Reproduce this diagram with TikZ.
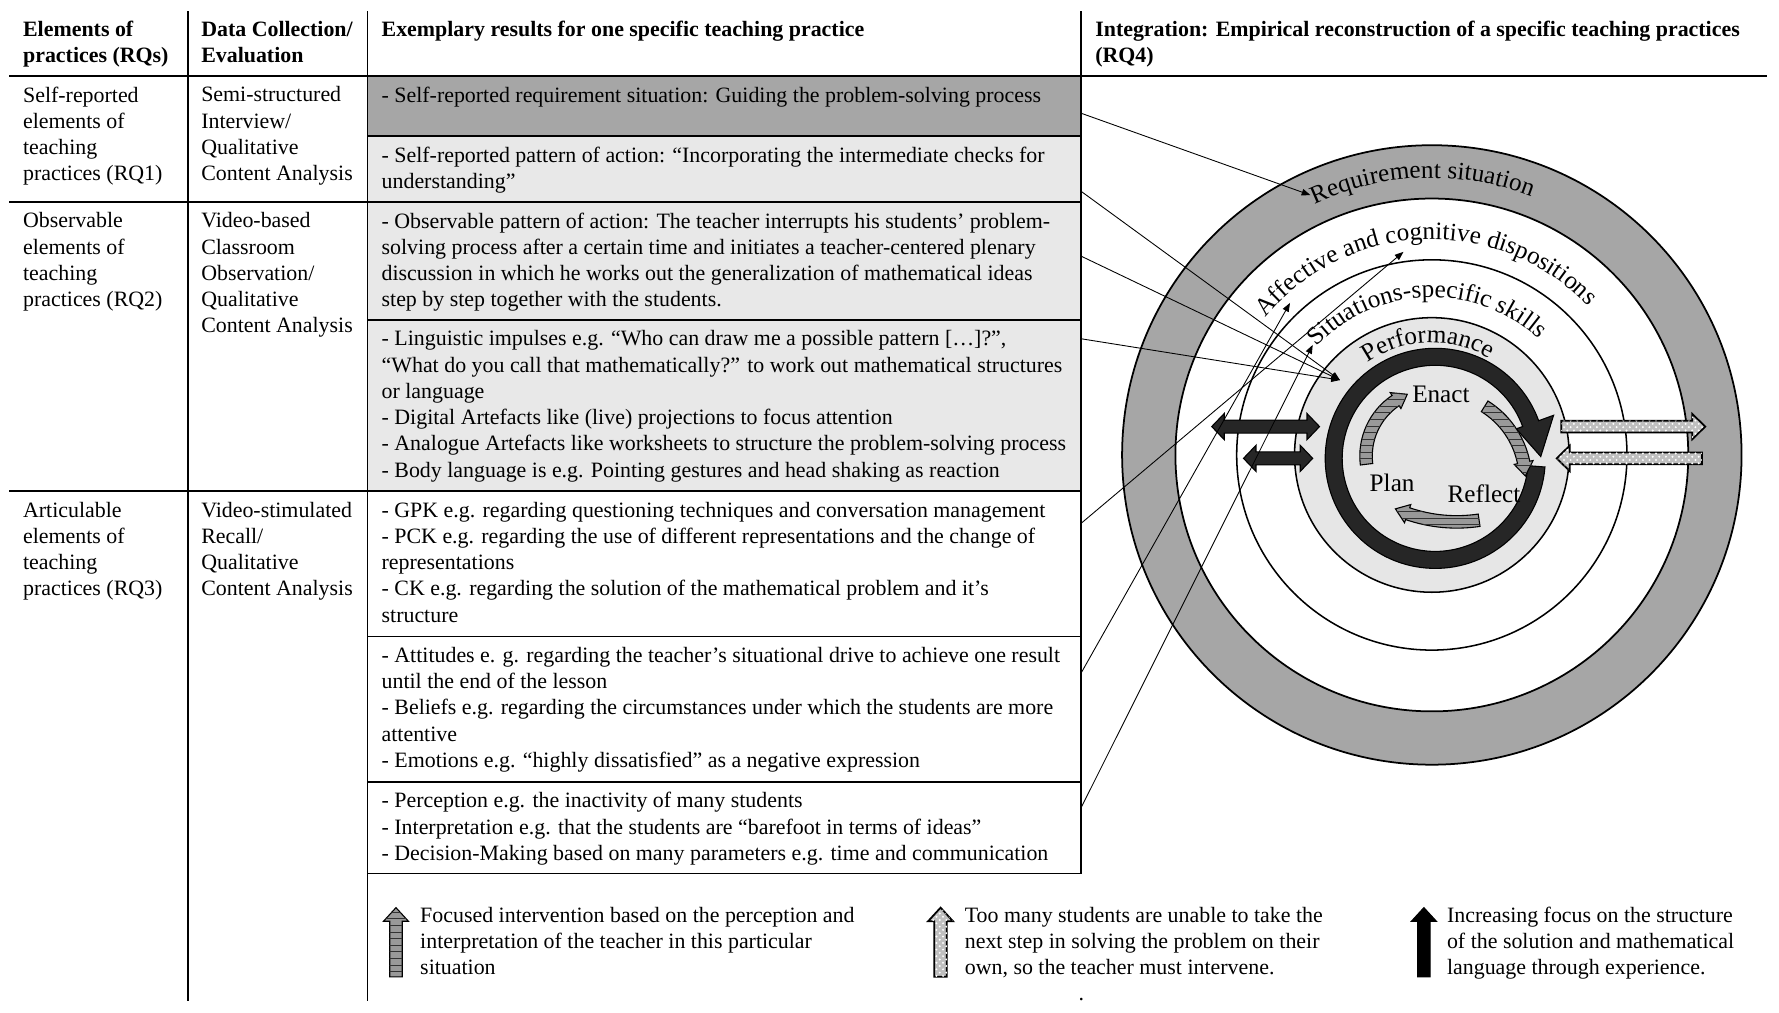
\documentclass[tikz,border=0pt]{standalone}
\usepackage{fontspec}
\setmainfont{Liberation Serif}
\usetikzlibrary{arrows.meta,calc,fit,patterns,decorations.text}
\definecolor{ringgray}{HTML}{A6A6A6}
\definecolor{cellgray}{HTML}{E8E8E8}
\definecolor{discgray}{HTML}{E6E6E6}
\definecolor{darkfill}{HTML}{262626}
\newcommand{\bodyfont}{\fontsize{10}{12}\selectfont}
\newcommand{\ringfont}{\fontsize{11.5}{13}\selectfont}
% block arrows
\newcommand{\dblarrow}[3]{% left tip, right tip, y
  \filldraw[darkarrow] (#1,#3) -- ({#1+11},{#3+11.5}) -- ({#1+11},{#3+5.7}) -- ({#2-11},{#3+5.7})
    -- ({#2-11},{#3+11.5}) -- (#2,#3) -- ({#2-11},{#3-11.5}) -- ({#2-11},{#3-5.7})
    -- ({#1+11},{#3-5.7}) -- ({#1+11},{#3-11.5}) -- cycle;}
\newcommand{\harrow}[5]{% style, tail x, tip x, y, head length
  \filldraw[#1] (#2,{#4+5.2}) -- ({#3-(#5)},{#4+5.2}) -- ({#3-(#5)},{#4+11.2}) -- (#3,#4)
    -- ({#3-(#5)},{#4-11.2}) -- ({#3-(#5)},{#4-5.2}) -- (#2,{#4-5.2}) -- cycle;}
\newcommand{\varrow}[4]{% style, x, bottom, tip
  \filldraw[#1] ({#2-5.5},#3) -- ({#2-5.5},{#4-12}) -- ({#2-11},{#4-12}) -- (#2,#4)
    -- ({#2+11},{#4-12}) -- ({#2+5.5},{#4-12}) -- ({#2+5.5},#3) -- cycle;}
\newcommand{\cycarrow}[5]{% centre, radius, tail angle, body end, tip angle
  \filldraw[stripearrow] ($#1+(#3:#2-5.5)$) arc[start angle=#3, end angle=#4, radius=#2-5.5]
    -- ($#1+(#4:#2-8.5)$) -- ($#1+(#5:#2)$) -- ($#1+(#4:#2+8.5)$) -- ($#1+(#4:#2+5.5)$)
    arc[start angle=#4, end angle=#3, radius=#2+5.5] -- cycle;}

\begin{document}
\begin{tikzpicture}[x=0.0182cm, y=0.0182cm,
    tab/.style={line width=0.8pt},
    cell/.style={inner sep=0pt, outer sep=0pt},
    txt/.style={anchor=north west, align=left, inner sep=0pt, font=\bodyfont},
    hdr/.style={txt, font=\bodyfont\bfseries},
    lbl/.style={inner sep=0pt, font=\ringfont},
    link/.style={line width=0.4pt, -{Triangle[length=4pt,width=3pt]}},
    darkarrow/.style={fill=darkfill, draw=black, line width=0.5pt},
    blackarrow/.style={fill=black, draw=black, line width=0.5pt},
    dotarrow/.style={fill=black!25, draw=black, line width=0.8pt,
      postaction={pattern=crosshatch dots, pattern color=white}},
    stripearrow/.style={fill=black!40, draw=black, line width=0.5pt,
      postaction={pattern=horizontal lines, pattern color=black!80}},
    ringtext/.style={decorate, decoration={text along path, text align=center,
      text={|\ringfont|#1}}}]
  \useasboundingbox (0,0) rectangle (1568,892);

  % shaded cells
  \node[cell, fill=ringgray, fit={(324,825) (953,772)}] (c1) {};
  \node[cell, fill=cellgray, fit={(324,772) (953,714)}] (c2) {};
  \node[cell, fill=cellgray, fit={(324,714) (953,610)}] (c3) {};
  \node[cell, fill=cellgray, fit={(324,610) (953,459)}] (c4) {};
  \node[cell, fit={(324,459) (953,331)}] (c5) {};
  \node[cell, fit={(324,331) (953,203)}] (c6) {};
  \node[cell, fit={(324,203) (953,122)}] (c7) {};

  % table rules
  \draw[tab] (8,825) -- (1557,825);
  \draw[tab] (8,714) -- (953,714);
  \draw[tab] (8,459) -- (953,459);
  \draw[tab] (324,772) -- (953,772);
  \draw[tab] (324,610) -- (953,610);
  \draw[tab] (324,331) -- (953,331);
  \draw[tab] (324,203) -- (953,203);
  \draw[tab] (324,122) -- (953,122);
  \draw[tab] (166,882) -- (166,10);
  \draw[tab] (324,882) -- (324,10);
  \draw[tab] (953,882) -- (953,122);

  % header
  \node[hdr] (h-elem) at (20,874) {Elements of\\practices (RQs)};
  \node[hdr] (h-data) at (177,874) {Data Collection/\\Evaluation};
  \node[hdr] (h-res) at (336,874) {Exemplary results for one specific teaching practice};
  \node[hdr] (h-int) at (965,874) {Integration: Empirical reconstruction of a specific teaching practices\\(RQ4)};

  % rows
  \node[txt] (e1) at (20,816) {Self-reported\\elements of\\teaching\\practices (RQ1)};
  \node[txt] (d1) at (177,816) {Semi-structured\\Interview/\\Qualitative\\Content Analysis};
  \node[txt] (e2) at (20,705) {Observable\\elements of\\teaching\\practices (RQ2)};
  \node[txt] (d2) at (177,705) {Video-based\\Classroom\\Observation/\\Qualitative\\Content Analysis};
  \node[txt] (e3) at (20,450) {Articulable\\elements of\\teaching\\practices (RQ3)};
  \node[txt] (d3) at (177,450) {Video-stimulated\\Recall/\\Qualitative\\Content Analysis};

  \node[txt] (x1) at (336,816) {- Self-reported requirement situation: Guiding the problem-solving process};
  \node[txt] (x2) at (336,763) {- Self-reported pattern of action: “Incorporating the intermediate checks for\\understanding”};
  \node[txt] (x3) at (336,705) {- Observable pattern of action: The teacher interrupts his students’ problem-\\solving process after a certain time and initiates a teacher-centered plenary\\discussion in which he works out the generalization of mathematical ideas\\step by step together with the students.};
  \node[txt] (x4) at (336,601) {- Linguistic impulses e.g. “Who can draw me a possible pattern […]?”,\\“What do you call that mathematically?” to work out mathematical structures\\or language\\- Digital Artefacts like (live) projections to focus attention\\- Analogue Artefacts like worksheets to structure the problem-solving process\\- Body language is e.g. Pointing gestures and head shaking as reaction};
  \node[txt] (x5) at (336,450) {- GPK e.g. regarding questioning techniques and conversation management\\- PCK e.g. regarding the use of different representations and the change of\\representations\\- CK e.g. regarding the solution of the mathematical problem and it’s\\structure};
  \node[txt] (x6) at (336,322) {- Attitudes e. g. regarding the teacher’s situational drive to achieve one result\\until the end of the lesson\\- Beliefs e.g. regarding the circumstances under which the students are more\\attentive\\- Emotions e.g. “highly dissatisfied” as a negative expression};
  \node[txt] (x7) at (336,194) {- Perception e.g. the inactivity of many students\\- Interpretation e.g. that the students are “barefoot in terms of ideas”\\- Decision-Making based on many parameters e.g. time and communication};

  % rings
  \coordinate (ctr) at (1262,491);
  \coordinate (core) at (1265,488);
  \filldraw[fill=ringgray, draw=black, line width=0.8pt, even odd rule] (ctr) circle[radius=273] (ctr) circle[radius=226];
  \draw[line width=0.7pt] (ctr) circle[radius=172];
  \filldraw[fill=discgray, draw=black, line width=0.7pt] (ctr) circle[radius=121];
  \filldraw[darkarrow] ($(core)+(20:82)$) arc[start angle=20, end angle=355.5, radius=82]
    -- ($(core)+(355.5:97)$) arc[start angle=355.5, end angle=20, radius=97]
    -- ($(core)+(20:111)$) -- ($(core)+(1:93)$) -- ($(core)+(20:76)$) -- cycle;
  \cycarrow{(1263,490)}{59}{187}{124}{112.6}
  \cycarrow{(1268,469)}{76.5}{58}{11.6}{2.6}
  \cycarrow{(1284,565)}{133}{-81.5}{-109}{-114}

  \path[ringtext={Requirement situation}] ($(ctr)+(162:244)$) arc[start angle=162, end angle=22, radius=244];
  \path[ringtext={Affective and cognitive dispositions}] ($(ctr)+(162:190)$) arc[start angle=162, end angle=22, radius=190];
  \path[ringtext={Situations-specific skills}] ($(ctr)+(162:139)$) arc[start angle=162, end angle=22, radius=139];
  \path[ringtext={Performance}] ($(ctr)+(162:99)$) arc[start angle=162, end angle=22, radius=99];
  \node[lbl] (enact) at (1270,544) {Enact};
  \node[lbl] (plan) at (1227,466) {Plan};
  \node[lbl] (reflect) at (1308,457) {Reflect};

  \dblarrow{1068}{1163}{516}
  \dblarrow{1096}{1157}{488}
  \harrow{dotarrow}{1376}{1503}{516}{11.5}
  \harrow{dotarrow}{1500}{1372}{488}{-11.5}

  % links from the table
  \coordinate (t-req) at (1155,720);
  \coordinate (t-perf) at (1181,557);
  \coordinate (t-aff) at (1237,670);
  \coordinate (t-aff2) at (1137,625);
  \coordinate (t-sit) at (1157,588);
  \draw[link] ($(c1.north east)!0.62!(c1.south east)$) -- (t-req);
  \draw[link] ($(c2.north east)!0.84!(c2.south east)$) -- (t-perf);
  \draw[link] ($(c3.north east)!0.46!(c3.south east)$) -- (t-perf);
  \draw[link] ($(c4.north east)!0.11!(c4.south east)$) -- (t-perf);
  \draw[link] ($(c5.north east)!0.22!(c5.south east)$) -- (t-aff);
  \draw[link] ($(c6.north east)!0.25!(c6.south east)$) -- (t-aff2);
  \draw[link] ($(c7.north east)!0.28!(c7.south east)$) -- (t-sit);

  % legend
  \varrow{stripearrow}{349}{31}{92}
  \varrow{dotarrow}{829}{31}{92}
  \varrow{blackarrow}{1255}{31}{92}
  \node[txt] (leg1) at (370,93) {Focused intervention based on the perception and\\interpretation of the teacher in this particular\\situation};
  \node[txt] (leg2) at (850,93) {Too many students are unable to take the\\next step in solving the problem on their\\own, so the teacher must intervene.};
  \node[txt] (leg3) at (1275,93) {Increasing focus on the structure\\of the solution and mathematical\\language through experience.};
  \node[inner sep=0pt, anchor=base, font=\bodyfont] (dot) at (953,10) {.};
\end{tikzpicture}
\end{document}
